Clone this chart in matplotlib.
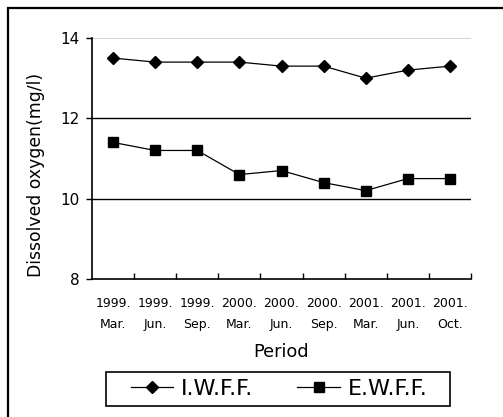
import matplotlib.pyplot as plt
from matplotlib.patches import Rectangle
from matplotlib.lines import Line2D

plt.rcParams['font.family'] = ['DejaVu Sans']

periods = ["1999.\nMar.", "1999.\nJun.", "1999.\nSep.", "2000.\nMar.", "2000.\nJun.",
           "2000.\nSep.", "2001.\nMar.", "2001.\nJun.", "2001.\nOct."]
iwff = [13.5, 13.4, 13.4, 13.4, 13.3, 13.3, 13.0, 13.2, 13.3]
ewff = [11.4, 11.2, 11.2, 10.6, 10.7, 10.4, 10.2, 10.5, 10.5]

W, H = 503, 417
fig = plt.figure(figsize=(W / 100, H / 100), dpi=100)
ax = fig.add_axes([92 / W, 1 - 279 / H, (471 - 92) / W, (279 - 38) / H])

x = [i + 0.5 for i in range(len(periods))]

# horizontal reference lines
ax.axhline(14, color='#cccccc', lw=1.2, zorder=1)
for yv in (10, 12):
    ax.axhline(yv, color='black', lw=1.0, zorder=1)

ax.plot(x, iwff, color='black', lw=0.9, marker='D', ms=6.5, label='I.W.F.F.', zorder=3)
ax.plot(x, ewff, color='black', lw=0.9, marker='s', ms=7.5, label='E.W.F.F.', zorder=3)

ax.set_xlim(0, len(periods))
ax.set_ylim(8, 14)
ax.set_yticks([8, 10, 12, 14])
ax.tick_params(axis='y', direction='out', length=4, width=1, labelsize=11, pad=5)

# category boundaries get the tick marks, centers get the labels
ax.set_xticks(range(1, len(periods) + 1))
ax.set_xticklabels([])
ax.set_xticks(x, minor=True)
ax.set_xticklabels(periods, minor=True, fontsize=9, linespacing=1.75)
ax.tick_params(axis='x', which='major', direction='in', length=4, width=1)
ax.tick_params(axis='x', which='minor', length=0, pad=13)

for s in ('top', 'right'):
    ax.spines[s].set_visible(False)
for s in ('left', 'bottom'):
    ax.spines[s].set_linewidth(1.2)

ax.set_ylabel('Dissolved oxygen(mg/l)', fontsize=12.4)
ax.yaxis.set_label_coords(-0.125, 0.43)
ax.set_xlabel('Period', fontsize=12.8, labelpad=9)

handles = [Line2D([], [], color='black', lw=0.9, marker='D', ms=6),
           Line2D([], [], color='black', lw=0.9, marker='s', ms=7)]
leg = fig.legend(handles, ['I.W.F.F.', 'E.W.F.F.'], ncol=2, loc='center',
                 bbox_to_anchor=(279 / W, 1 - 389 / H), fontsize=16,
                 frameon=False, handlelength=1.9, handletextpad=0.36,
                 columnspacing=2.0, borderpad=0.2)

# legend box
fig.patches.append(Rectangle((106 / W, 1 - 406 / H), 344 / W, 34 / H,
                             transform=fig.transFigure, fill=False,
                             edgecolor='black', lw=1.2))

# outer frame (left and top edges visible)
fig.patches.append(Rectangle((8 / W, -0.1), 1.2, 1 - 8 / H + 0.1, transform=fig.transFigure,
                             fill=False, edgecolor='black', lw=1.6))

fig.savefig('out.png', dpi=100)
